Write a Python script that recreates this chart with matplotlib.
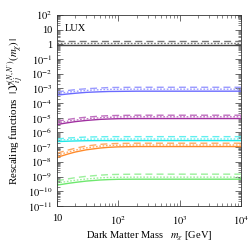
import numpy as np
import matplotlib
matplotlib.use("Agg")
import matplotlib.pyplot as plt
from matplotlib.ticker import LogLocator, FuncFormatter, NullFormatter

plt.rcParams['font.family'] = ['Liberation Serif', 'DejaVu Serif']
plt.rcParams['mathtext.fontset'] = 'stix'

mass = [10, 15, 20, 30, 50, 70, 100, 200, 500, 1000, 10000]

black_solid = [0.95] * 11
black_dashed = [1.8] * 11
black_dotted = [1.3] * 11

blue_solid = [3.5e-4, 4.2e-4, 4.7e-4, 5.4e-4, 5.9e-4, 6.2e-4, 6.3e-4, 6.5e-4, 6.5e-4, 6.5e-4, 6.5e-4]
blue_dashed = [5.8e-4, 7.2e-4, 8.3e-4, 9.5e-4, 1.07e-3, 1.15e-3, 1.17e-3, 1.2e-3, 1.2e-3, 1.2e-3, 1.2e-3]
blue_dotted = [4.5e-4, 5.6e-4, 6.3e-4, 7.3e-4, 8.2e-4, 8.6e-4, 8.8e-4, 8.9e-4, 8.9e-4, 8.9e-4, 8.9e-4]

purple_solid = [3.5e-6, 4.6e-6, 5.5e-6, 6.6e-6, 7.8e-6, 8.3e-6, 8.7e-6, 8.9e-6, 8.9e-6, 8.9e-6, 8.9e-6]
purple_dashed = [5.9e-6, 7.7e-6, 9.2e-6, 1.1e-5, 1.3e-5, 1.4e-5, 1.45e-5, 1.5e-5, 1.5e-5, 1.5e-5, 1.5e-5]
purple_dotted = [4.5e-6, 5.9e-6, 7.0e-6, 8.5e-6, 1.0e-5, 1.08e-5, 1.14e-5, 1.17e-5, 1.17e-5, 1.17e-5, 1.17e-5]

cyan_solid = [2.4e-7, 2.55e-7, 2.65e-7, 2.75e-7, 2.8e-7, 2.8e-7, 2.8e-7, 2.8e-7, 2.8e-7, 2.8e-7, 2.8e-7]
cyan_dashed = [3.6e-7, 4.2e-7, 4.5e-7, 4.9e-7, 5.1e-7, 5.2e-7, 5.2e-7, 5.2e-7, 5.2e-7, 5.2e-7, 5.2e-7]
cyan_dotted = [3.0e-7, 3.25e-7, 3.4e-7, 3.5e-7, 3.6e-7, 3.6e-7, 3.6e-7, 3.6e-7, 3.6e-7, 3.6e-7, 3.6e-7]

orange_solid = [2.0e-8, 3.4e-8, 4.7e-8, 6.6e-8, 8.7e-8, 9.8e-8, 1.05e-7, 1.1e-7, 1.1e-7, 1.1e-7, 1.1e-7]
orange_dashed = [3.9e-8, 6.3e-8, 8.5e-8, 1.2e-7, 1.55e-7, 1.7e-7, 1.8e-7, 1.86e-7, 1.86e-7, 1.86e-7, 1.86e-7]
orange_dotted = [2.8e-8, 4.6e-8, 6.3e-8, 8.9e-8, 1.17e-7, 1.3e-7, 1.36e-7, 1.4e-7, 1.4e-7, 1.4e-7, 1.4e-7]

green_solid = [2.6e-10, 3.4e-10, 4.0e-10, 4.9e-10, 5.8e-10, 6.2e-10, 6.5e-10, 6.6e-10, 6.6e-10, 6.6e-10, 6.6e-10]
green_dashed = [5.1e-10, 6.9e-10, 8.4e-10, 1.03e-9, 1.24e-9, 1.35e-9, 1.4e-9, 1.45e-9, 1.45e-9, 1.45e-9, 1.45e-9]
green_dotted = [3.6e-10, 4.7e-10, 5.6e-10, 6.8e-10, 8.1e-10, 8.7e-10, 8.9e-10, 9.1e-10, 9.1e-10, 9.1e-10, 9.1e-10]

groups = [
    ("#444444", "#777777", black_solid, black_dashed, black_dotted),
    ("#6a6aff", "#9a9aff", blue_solid, blue_dashed, blue_dotted),
    ("#a030a0", "#c070c0", purple_solid, purple_dashed, purple_dotted),
    ("#20e8e8", "#60f0f0", cyan_solid, cyan_dashed, cyan_dotted),
    ("#ff8a2a", "#ffa860", orange_solid, orange_dashed, orange_dotted),
    ("#6ee86e", "#9af09a", green_solid, green_dashed, green_dotted),
]

fig = plt.figure(figsize=(2.51, 2.46), dpi=100)
ax = fig.add_axes([0.227, 0.163, 0.733, 0.776])

for c_solid, c_light, s, d, o in groups:
    ax.plot(mass, s, color=c_solid, lw=1.0, ls='-')
    ax.plot(mass, d, color=c_light, lw=1.0, ls=(0, (5, 3)))
    ax.plot(mass, o, color=c_light, lw=1.0, ls=(0, (1.2, 1.2)))

ax.set_xscale('log')
ax.set_yscale('log')
ax.set_xlim(10, 1e4)
ax.set_ylim(1e-11, 1e2)

def yfmt(v, pos):
    e = int(round(np.log10(v)))
    if e == 0:
        return "1"
    if e == 1:
        return "10"
    return r"$10^{%d}$" % e

def xfmt(v, pos):
    e = int(round(np.log10(v)))
    if e == 1:
        return "10"
    return r"$10^{%d}$" % e

ax.yaxis.set_major_locator(LogLocator(base=10, numticks=20))
ax.yaxis.set_minor_locator(LogLocator(base=10, subs=np.arange(2, 10), numticks=20))
ax.yaxis.set_major_formatter(FuncFormatter(yfmt))
ax.yaxis.set_minor_formatter(NullFormatter())
ax.xaxis.set_major_locator(LogLocator(base=10, numticks=10))
ax.xaxis.set_minor_locator(LogLocator(base=10, subs=np.arange(2, 10), numticks=10))
ax.xaxis.set_major_formatter(FuncFormatter(xfmt))
ax.xaxis.set_minor_formatter(NullFormatter())

ax.tick_params(which='both', direction='in', top=True, right=True, labelsize=7.5, colors='#555555', labelcolor='black')
ax.tick_params(axis='y', pad=3.5)
ax.tick_params(axis='x', pad=6)
ax.tick_params(which='major', length=4, width=0.6)
ax.tick_params(which='minor', length=2, width=0.5)
for sp in ax.spines.values():
    sp.set_linewidth(0.6)
    sp.set_color('#333333')

ax.set_xlabel(r"Dark Matter Mass   $m_\chi$ [GeV]", fontsize=7.6, labelpad=2)
ax.set_ylabel(r"Rescaling functions  $|\,\mathcal{Y}_{ij}^{(N,N')}(m_\chi)\,|$", fontsize=7.8, labelpad=1)

ax.text(0.04, 0.955, "LUX", transform=ax.transAxes, fontsize=7.5, va='top', ha='left')

fig.savefig("out.png", dpi=100)
